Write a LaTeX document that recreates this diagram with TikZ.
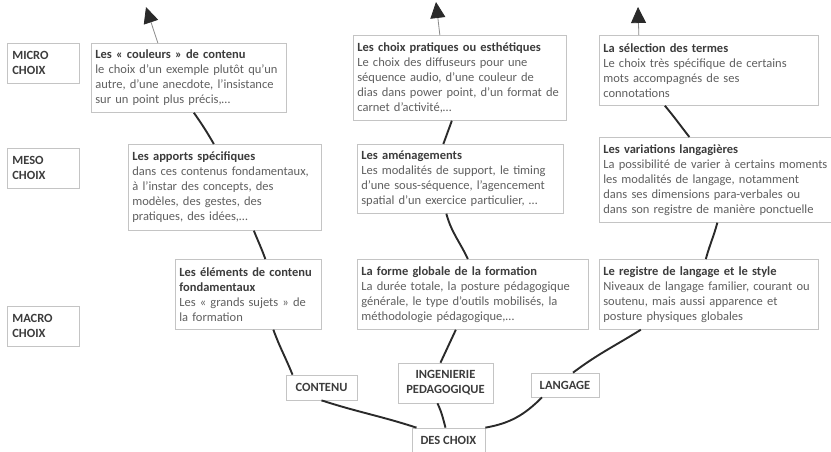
\documentclass[tikz,border=0pt]{standalone}
\usepackage{fontspec}
\setmainfont{Carlito}
\usepackage{xcolor}
\usepackage{tikz}
\usetikzlibrary{arrows.meta,positioning}

\definecolor{boxgray}{HTML}{C4C4C4}
\definecolor{titlegray}{HTML}{3C3C3C}
\definecolor{bodygray}{HTML}{606060}
\definecolor{branchgray}{HTML}{2A2A2A}
\definecolor{stemgray}{HTML}{8A8A8A}

\newcommand{\titre}[1]{{\bfseries\color{titlegray}#1}}

\begin{document}
\begin{tikzpicture}[
    x=1pt, y=1pt,
    choixbox/.style={draw=boxgray, fill=white, line width=0.7pt, anchor=north west,
        align=left, inner xsep=4pt, inner ysep=4pt, text=bodygray,
        font=\fontsize{12.5}{15}\selectfont},
    levelbox/.style={draw=boxgray, fill=white, line width=0.7pt, anchor=north west,
        align=left, inner xsep=5pt, text=titlegray, minimum width=72pt, minimum height=40pt,
        text width=62pt, font=\fontsize{12.5}{15}\selectfont\bfseries},
    tronc/.style={draw=boxgray, fill=white, line width=0.7pt, align=center, inner sep=2pt,
        text=titlegray, font=\fontsize{12.5}{15}\selectfont\bfseries},
    branch/.style={draw=branchgray, line width=1.9pt},
    stem/.style={draw=stemgray, line width=0.8pt, -{Triangle[length=16pt,width=15pt,color=branchgray,fill=branchgray]}}
]
    \useasboundingbox (0,0) rectangle (831,-451);

    % niveaux
    \node[levelbox] (lvmicro) at (7,-43) {MICRO\\CHOIX};
    \node[levelbox] (lvmeso) at (7,-148) {MESO\\CHOIX};
    \node[levelbox] (lvmacro) at (7,-306) {MACRO\\CHOIX};

    % contenu
    \node[choixbox, text width=187pt, minimum height=69pt] (cmicro) at (91,-43)
        {\titre{Les « couleurs » de contenu}\\le choix d’un exemple plutôt qu’un\\autre, d’une anecdote, l’insistance\\sur un point plus précis,…};
    \node[choixbox, text width=185pt, minimum height=86pt] (cmeso) at (128,-144)
        {\titre{Les apports spécifiques}\\dans ces contenus fondamentaux,\\à l’instar des concepts, des\\modèles, des gestes, des\\pratiques, des idées,…};
    \node[choixbox, text width=138pt, minimum height=70pt] (cmacro) at (175,-259)
        {\titre{Les éléments de contenu}\\\titre{fondamentaux}\\Les « grands sujets » de\\la formation};

    % ingenierie pedagogique
    \node[choixbox, text width=205pt, minimum height=85pt] (imicro) at (353,-35)
        {\titre{Les choix pratiques ou esthétiques}\\Le choix des diffuseurs pour une\\séquence audio, d’une couleur de\\dias dans power point, d’un format de\\carnet d’activité,…};
    \node[choixbox, text width=198pt, minimum height=69pt] (imeso) at (357,-144)
        {\titre{Les aménagements}\\Les modalités de support, le timing\\d’une sous-séquence, l’agencement\\spatial d’un exercice particulier, …};
    \node[choixbox, text width=223pt, minimum height=70pt] (imacro) at (357,-259)
        {\titre{La forme globale de la formation}\\La durée totale, la posture pédagogique\\générale, le type d’outils mobilisés, la\\méthodologie pédagogique,…};

    % langage
    \node[choixbox, text width=211pt, minimum height=70pt] (lmicro) at (599,-35)
        {\titre{La sélection des termes}\\Le choix très spécifique de certains\\mots accompagnés de ses\\connotations};
    \node[choixbox, text width=226pt, minimum height=85pt] (lmeso) at (599,-137)
        {\titre{Les variations langagières}\\La possibilité de varier à certains moments\\les modalités de langage, notamment\\dans ses dimensions para-verbales ou\\dans son registre de manière ponctuelle};
    \node[choixbox, text width=211pt, minimum height=70pt] (lmacro) at (599,-259)
        {\titre{Le registre de langage et le style}\\Niveaux de langage familier, courant ou\\soutenu, mais aussi apparence et\\posture physiques globales};

    % tronc
    \node[tronc, minimum width=71pt, minimum height=25pt] (contenu) at (321.5,-387.5) {CONTENU};
    \node[tronc, minimum width=95pt, minimum height=40pt] (ingenierie) at (445.5,-383) {INGENIERIE\\PEDAGOGIQUE};
    \node[tronc, minimum width=68pt, minimum height=24pt] (langage) at (565,-385) {LANGAGE};
    \node[tronc, minimum width=73pt, minimum height=25pt] (choix) at (448.5,-440.5) {DES CHOIX};

    \coordinate (fleche1) at (146,-7);
    \coordinate (fleche2) at (436,-2);
    \coordinate (fleche3) at (638,-7);

    % branche contenu
    \draw[branch] ([xshift=-32pt]choix.north) to[out=162,in=-18] (contenu.south);
    \draw[branch] ([xshift=-29pt]contenu.north) to[out=112,in=-70] ([xshift=25pt]cmacro.south);
    \draw[branch] ([xshift=17pt]cmacro.north) to[out=110,in=-68] ([xshift=29pt]cmeso.south);
    \draw[branch] ([xshift=-11pt]cmeso.north) to[out=120,in=-55] ([xshift=5pt]cmicro.south);
    \draw[stem] ([xshift=-31pt]cmicro.north) -- (fleche1);

    % branche ingenierie
    \draw[branch] ([xshift=-3pt]choix.north) to[out=105,in=-65] ([xshift=-8pt]ingenierie.south);
    \draw[branch] ([xshift=-5pt]ingenierie.north) to[out=65,in=-115] ([xshift=-17pt]imacro.south);
    \draw[branch] ([xshift=-5pt]imacro.north) to[out=115,in=-75] ([xshift=-14pt]imeso.south);
    \draw[branch] ([xshift=-17pt]imeso.north) to[out=70,in=-110] ([xshift=-8pt]imicro.south);
    \draw[stem] ([xshift=-20pt]imicro.north) -- (fleche2);

    % branche langage
    \draw[branch] (choix.north east) to[out=10,in=-135] ([xshift=-23pt]langage.south);
    \draw[branch] ([xshift=8pt]langage.north) to[out=37,in=-148] ([xshift=-68pt]lmacro.south);
    \draw[branch] ([xshift=-3pt]lmacro.north) to[out=75,in=-105] ([xshift=1pt]lmeso.south);
    \draw[branch] ([xshift=-27pt]lmeso.north) to[out=128,in=-50] ([xshift=-44pt]lmicro.south);
    \draw[stem] ([xshift=-70pt]lmicro.north) -- (fleche3);
\end{tikzpicture}
\end{document}
